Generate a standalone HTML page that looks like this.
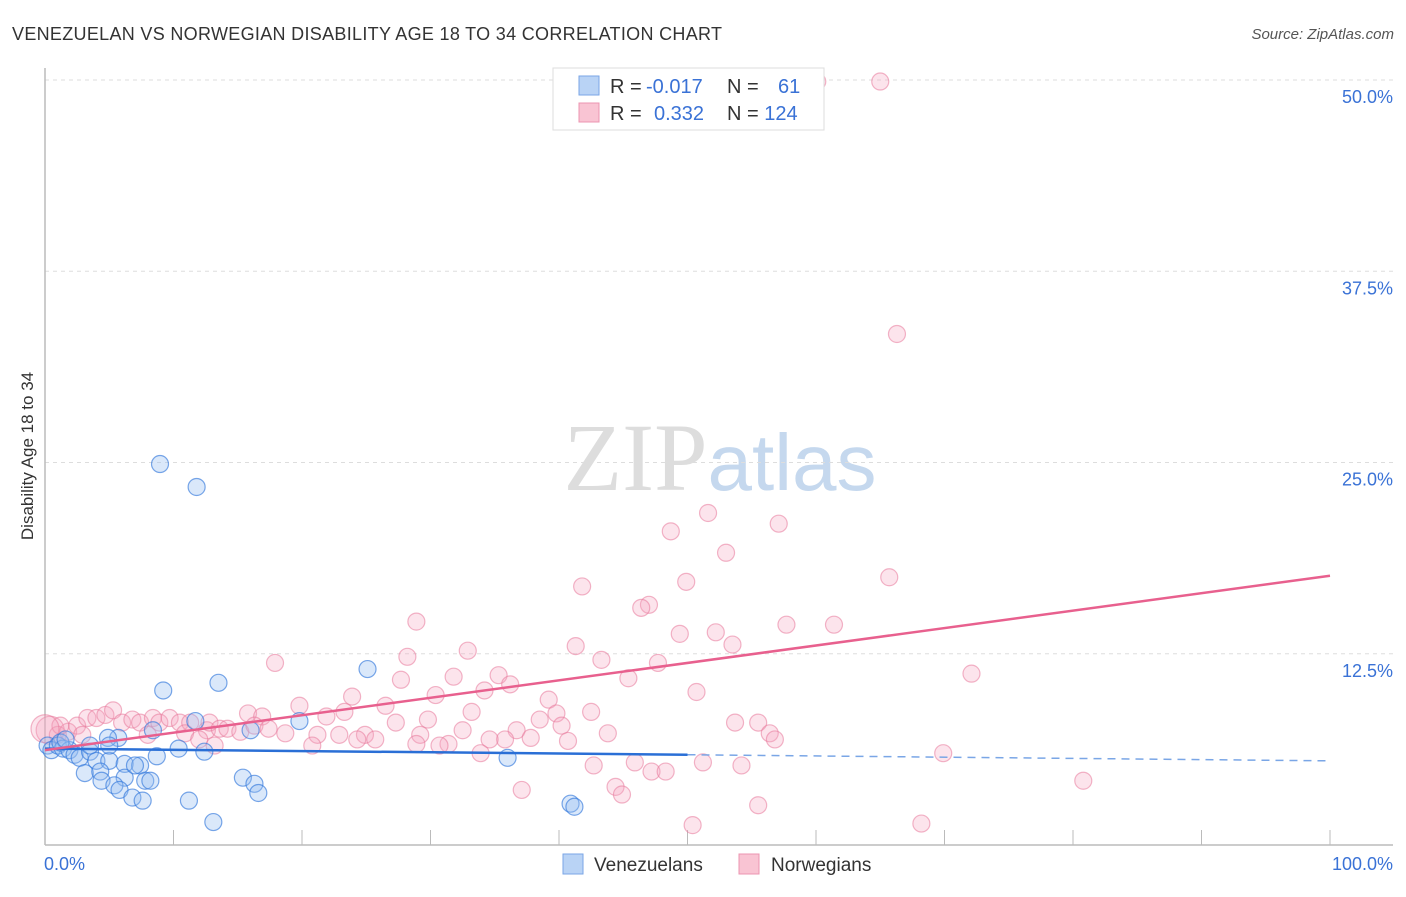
<!DOCTYPE html>
<html><head><meta charset="utf-8"><style>
body{margin:0;background:#fff;font-family:"Liberation Sans",sans-serif;}
</style></head><body>
<svg id="chart" width="1406" height="892" xmlns="http://www.w3.org/2000/svg" font-family="Liberation Sans, sans-serif">
<text x="12" y="40" font-size="18" fill="#333" textLength="710" lengthAdjust="spacing">VENEZUELAN VS NORWEGIAN DISABILITY AGE 18 TO 34 CORRELATION CHART</text>
<text x="1394" y="39" font-size="15" fill="#555" font-style="italic" text-anchor="end">Source: ZipAtlas.com</text>
<text x="720" y="490" font-size="96" text-anchor="middle" fill="#ddd" font-family="Liberation Serif, serif">ZIP<tspan fill="#c5d8ee" font-family="Liberation Sans, sans-serif" font-size="80">atlas</tspan></text>
<text transform="translate(33,456) rotate(-90)" font-size="17" fill="#333" text-anchor="middle">Disability Age 18 to 34</text>
<g id="grid"></g><g id="pts"></g><g id="lines"></g>
<g>
<rect x="553" y="68" width="271" height="62" fill="#fff" stroke="#ddd"/>
<rect x="579" y="76" width="20" height="19" fill="#b9d3f5" stroke="#7aa6e6"/>
<rect x="579" y="103" width="20" height="19" fill="#f9c4d3" stroke="#ec95b0"/>
<text x="610" y="93" font-size="20" fill="#333">R = <tspan fill="#3a72d6" x="646">-0.017</tspan><tspan x="727">N = </tspan><tspan fill="#3a72d6" x="778">61</tspan></text>
<text x="610" y="120" font-size="20" fill="#333">R = <tspan fill="#3a72d6" x="654">0.332</tspan><tspan x="727">N = </tspan><tspan fill="#3a72d6">124</tspan></text>
</g>
<g>
<rect x="563" y="854" width="20" height="20" fill="#b9d3f5" stroke="#7aa6e6"/>
<text x="594" y="871" font-size="19" fill="#333">Venezuelans</text>
<rect x="739" y="854" width="20" height="20" fill="#f9c4d3" stroke="#ec95b0"/>
<text x="771" y="871" font-size="19" fill="#333">Norwegians</text>
</g>
</svg>
<script>
const yTicks=[12.5,25,37.5,50];
const yTickLabels=["12.5%","25.0%","37.5%","50.0%"];
const xTickVals=[10,20,30,40,50,60,70,80,90,100];
const blueX=[8.95,11.8,25.1,9.2,13.5,11.7,8.4,5.7,4.9,16,19.8,10.4,12.4,8.7,0.2,0.5,1,1.4,1.9,2.3,2.7,3.5,4.0,5.0,3.1,4.3,6.2,7.4,6.2,4.4,5.4,5.8,6.8,7.6,7.8,8.2,15.4,16.3,16.6,11.2,13.1,36,40.9,41.2,3.5,1.2,1.6,7,5];
const blueY=[24.9,23.4,11.5,10.1,10.6,8.1,7.5,7.0,7.0,7.5,8.1,6.3,6.1,5.8,6.5,6.2,6.5,6.3,6.2,5.9,5.7,6.1,5.5,5.5,4.7,4.8,5.3,5.2,4.4,4.2,3.9,3.6,3.1,2.9,4.2,4.2,4.4,4.0,3.4,2.9,1.5,5.7,2.7,2.5,6.5,6.7,6.9,5.2,6.5];
const pinkX=[60.1,65,66.3,51.6,57.1,48.7,53,65.7,41.8,49.9,47,46.4,28.9,57.7,61.4,49.4,52.2,53.5,41.3,32.9,28.2,17.9,43.3,47.7,72.1,35.3,31.8,27.7,45.4,36.2,34.2,30.4,50.7,23.9,39.2,19.8,26.5,33.2,42.5,39.8,23.3,15.8,16.9,21.9,29.8,38.5,40.2,27.3,53.7,55.5,36.7,32.5,43.8,56.4,56.8,29.2,24.9,22.9,21.2,18.7,37.8,35.8,34.6,25.7,24.3,31.4,28.9,30.7,40.7,20.8,33.9,69.9,45.9,51.2,54.2,42.7,47.2,48.3,80.8,37.1,44.4,44.9,55.5,50.4,68.2,0.4,1,1.8,2.5,3.3,4,4.7,5.3,6,6.8,7.4,8.4,8.9,9.7,10.5,11.3,12.6,12.8,13.6,14.2,15.2,16.3,17.4,8,10.9,13.2,12,1.2,0,2.9];
const pinkY=[49.9,49.9,33.4,21.7,21,20.5,19.1,17.5,16.9,17.2,15.7,15.5,14.6,14.4,14.4,13.8,13.9,13.1,13.0,12.7,12.3,11.9,12.1,11.9,11.2,11.1,11.0,10.8,10.9,10.5,10.1,9.8,10.0,9.7,9.5,9.1,9.1,8.7,8.7,8.6,8.7,8.6,8.4,8.4,8.2,8.2,7.8,8.0,8.0,8.0,7.5,7.5,7.3,7.3,6.9,7.2,7.2,7.2,7.2,7.3,7.0,6.9,6.9,6.9,6.9,6.6,6.6,6.5,6.8,6.5,6.0,6.0,5.4,5.4,5.2,5.2,4.8,4.8,4.2,3.6,3.8,3.3,2.6,1.3,1.4,7.5,7.2,7.4,7.8,8.3,8.3,8.5,8.8,8.0,8.2,8.0,8.3,8.0,8.3,8.0,8.0,7.5,8.0,7.6,7.6,7.4,7.8,7.6,7.2,7.3,6.5,6.9,7.8,7.6,7.2];
const blueTrend=[6.3,5.5];   // value at x=0 and x=100
const pinkTrend=[6.2,17.6];
const blueSolidEnd=50;

const NS="http://www.w3.org/2000/svg";
const X0=45,X1=1330,Y0=845,Y50=80;
const sx=v=>X0+(X1-X0)*v/100;
const sy=v=>Y0-(Y0-Y50)*v/50;
function mk(tag,attrs,parent){const e=document.createElementNS(NS,tag);for(const k in attrs)e.setAttribute(k,attrs[k]);parent.appendChild(e);return e;}
const grid=document.getElementById('grid');
yTicks.forEach((t,i)=>{
  const l=mk('line',{x1:X0,x2:1393,y1:sy(t),y2:sy(t),stroke:'#ddd','stroke-dasharray':'4,4'},grid);
  
  
  const tx=mk('text',{x:1393,y:sy(t)+23,'font-size':18,fill:'#3a72d6','text-anchor':'end'},grid);
  tx.textContent=yTickLabels[i];
  
  
});
const ax=mk('line',{x1:X0,x2:X0,y1:68,y2:Y0,stroke:'#bbb','stroke-width':1.5},grid);


const bx=mk('line',{x1:X0,x2:1393,y1:Y0,y2:Y0,stroke:'#bbb','stroke-width':1.5},grid);


xTickVals.forEach(t=>{
  const l=mk('line',{x1:sx(t),x2:sx(t),y1:830,y2:Y0,stroke:'#bbb'},grid);
  
  
});
const xl0=mk('text',{x:44,y:870,'font-size':18,fill:'#3a72d6'},grid);xl0.textContent='0.0%';


const xl1=mk('text',{x:1393,y:870,'font-size':18,fill:'#3a72d6','text-anchor':'end'},grid);xl1.textContent='100.0%';


const pts=document.getElementById('pts');
pinkX.forEach((x,i)=>{
  const c=mk('circle',{cx:sx(x),cy:sy(pinkY[i]),r:(x<0.5?14:8.5),fill:'rgba(246,167,192,0.3)',stroke:'rgba(232,120,155,0.55)','stroke-width':1.2},pts);
  
  
});
blueX.forEach((x,i)=>{
  const c=mk('circle',{cx:sx(x),cy:sy(blueY[i]),r:8.5,fill:'rgba(150,190,240,0.35)',stroke:'rgba(50,120,220,0.65)','stroke-width':1.2},pts);
  
  
});
const lines=document.getElementById('lines');
const by=x=>blueTrend[0]+(blueTrend[1]-blueTrend[0])*x/100;
const bl=mk('line',{x1:sx(0),y1:sy(by(0)),x2:sx(blueSolidEnd),y2:sy(by(blueSolidEnd)),stroke:'#2a6fd6','stroke-width':2.5},lines);


const bd=mk('line',{x1:sx(blueSolidEnd),y1:sy(by(blueSolidEnd)),x2:sx(100),y2:sy(by(100)),stroke:'#7aa6e6','stroke-width':1.5,'stroke-dasharray':'8,6'},lines);


const pl=mk('line',{x1:sx(0),y1:sy(pinkTrend[0]),x2:sx(100),y2:sy(pinkTrend[1]),stroke:'#e8608e','stroke-width':2.5},lines);


</script>
</body></html>
